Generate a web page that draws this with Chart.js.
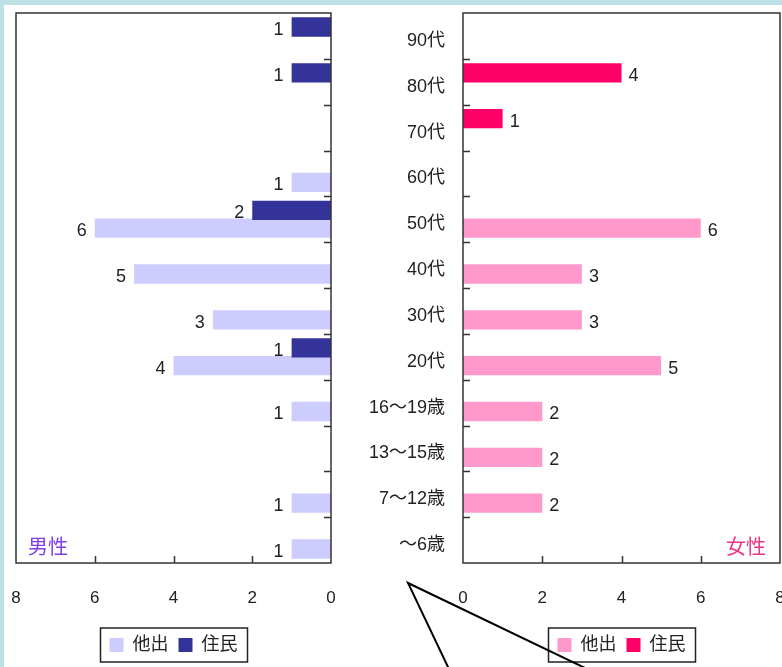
<!DOCTYPE html>
<html lang="ja">
<head>
<meta charset="utf-8">
<title>年代別 男女別 人数</title>
<script src="https://cdn.jsdelivr.net/npm/chart.js@4.4.1/dist/chart.umd.min.js"></script>
<style>
  html, body { margin: 0; padding: 0; width: 782px; height: 667px; overflow: hidden; background: #bde2e6; }
  #panel { position: absolute; left: 4px; top: 5px; width: 820px; height: 700px; background: #ffffff; }
  #male { position: absolute; left: 0; top: 0; }
  #female { position: absolute; left: 346px; top: 0; }
</style>
</head>
<body>
<div id="panel">
  <canvas id="male" width="376" height="662"></canvas>
  <canvas id="female" width="450" height="662"></canvas>
</div>
<script>
// 年代区分
const ageGroups = ['90代', '80代', '70代', '60代', '50代', '40代', '30代', '20代', '16～19歳', '13～15歳', '7～12歳', '～6歳'];

// 男性
const maleJumin = [1, 1, 0, 0, 2, 0, 0, 1, 0, 0, 0, 0];   // 住民
const maleTaside = [0, 0, 0, 1, 6, 5, 3, 4, 1, 0, 1, 1];  // 他出

// 女性
const femaleJumin = [0, 4, 1, 0, 0, 0, 0, 0, 0, 0, 0, 0];
const femaleTaside = [0, 0, 0, 0, 6, 3, 3, 5, 2, 2, 2, 0];

const seriesNames = { taside: '他出', jumin: '住民' };
const panelTitles = { male: '男性', female: '女性' };
const valueTicks = [0, 2, 4, 6, 8];

Chart.defaults.font.family = '"Liberation Sans", "Noto Sans CJK JP", sans-serif';
Chart.defaults.color = '#222222';

const AXIS_COLOR = '#333333';

// 軸の余白を固定して2枚のグラフの位置を揃える
function fixWidth(w) {
  return s => { s.width = w; s.paddingTop = 0; s.paddingBottom = 0; s.paddingLeft = 0; s.paddingRight = 0; };
}
function fixHeight(h) {
  return s => { s.height = h; s.paddingTop = 0; s.paddingBottom = 0; s.paddingLeft = 0; s.paddingRight = 0; };
}

// 枠線・内向きの目盛り・値ラベル・凡例の枠・男女の見出し
const framePlugin = {
  id: 'frame',
  afterDatasetsDraw(chart) {
    const ctx = chart.ctx;
    ctx.save();
    ctx.font = '18px "Liberation Sans", "Noto Sans CJK JP", sans-serif';
    ctx.fillStyle = '#222222';
    ctx.textBaseline = 'middle';
    chart.data.datasets.forEach((ds, di) => {
      const meta = chart.getDatasetMeta(di);
      meta.data.forEach((bar, i) => {
        const v = ds.data[i];
        if (!v) return;
        if (bar.x < bar.base) {
          ctx.textAlign = 'right';
          ctx.fillText(String(v), bar.x - 8, bar.y + 3);
        } else {
          ctx.textAlign = 'left';
          ctx.fillText(String(v), bar.x + 7, bar.y + 3);
        }
      });
    });
    ctx.restore();
  },
  afterDraw(chart, args, opts) {
    const ctx = chart.ctx;
    const a = chart.chartArea;
    const xs = chart.scales.x;
    const ys = chart.scales.y;
    ctx.save();
    ctx.strokeStyle = AXIS_COLOR;
    ctx.lineWidth = 1.5;
    ctx.strokeRect(a.left, a.top, a.right - a.left, a.bottom - a.top);

    // 区分の境目に内向きの目盛り
    const onRight = ys.position === 'right';
    const x0 = onRight ? a.right : a.left;
    const dir = onRight ? -1 : 1;
    ctx.beginPath();
    for (let i = 1; i < chart.data.labels.length; i++) {
      const y = Math.round(ys.getPixelForValue(i - 0.5)) + 0.5;
      ctx.moveTo(x0, y);
      ctx.lineTo(x0 + dir * 7, y);
    }
    // 値軸の内向きの目盛り
    xs.ticks.forEach(t => {
      if (t.value === xs.min || t.value === xs.max) return;
      const x = Math.round(xs.getPixelForValue(t.value)) + 0.5;
      ctx.moveTo(x, a.bottom);
      ctx.lineTo(x, a.bottom - 7);
    });
    ctx.stroke();

    // 男女の見出し
    ctx.font = '20px "Noto Sans CJK JP", sans-serif';
    ctx.fillStyle = opts.titleColor;
    ctx.textBaseline = 'middle';
    if (opts.titleSide === 'left') {
      ctx.textAlign = 'left';
      ctx.fillText(opts.title, a.left + 12, a.bottom - 17);
    } else {
      ctx.textAlign = 'right';
      ctx.fillText(opts.title, a.right - 14, a.bottom - 17);
    }

    // 凡例の枠
    const boxes = chart.legend.legendHitBoxes;
    if (boxes && boxes.length) {
      const l = Math.min(...boxes.map(b => b.left)) - 9;
      const r = Math.max(...boxes.map(b => b.left + b.width)) + 10;
      const cy = boxes[0].top + boxes[0].height / 2;
      ctx.strokeStyle = '#222222';
      ctx.lineWidth = 1.5;
      ctx.strokeRect(l, cy - 17, r - l, 34);
    }

    // 引き出し線
    if (opts.leader) {
      ctx.strokeStyle = '#000000';
      ctx.lineWidth = 2;
      const sx = a.left - 55, sy = a.bottom + 20;
      ctx.beginPath();
      ctx.moveTo(sx + 40 * 1.2, sy + 84 * 1.2);
      ctx.lineTo(sx, sy);
      ctx.lineTo(sx + 175 * 1.2, sy + 84 * 1.2);
      ctx.stroke();
    }
    ctx.restore();
  }
};

function makeChart(canvasId, cfg) {
  return new Chart(document.getElementById(canvasId), {
    type: 'bar',
    data: {
      labels: ageGroups,
      datasets: [
        { label: seriesNames.jumin, data: cfg.jumin, backgroundColor: cfg.dark, borderWidth: 0,
          categoryPercentage: 0.78, barPercentage: 1.08 },
        { label: seriesNames.taside, data: cfg.taside, backgroundColor: cfg.light, borderWidth: 0,
          categoryPercentage: 0.78, barPercentage: 1.08 }
      ]
    },
    options: {
      indexAxis: 'y',
      responsive: false,
      animation: false,
      layout: { padding: cfg.padding },
      scales: {
        x: {
          min: 0, max: 8, reverse: cfg.reverse,
          afterBuildTicks: s => { s.ticks = valueTicks.map(v => ({ value: v })); },
          ticks: { font: { size: 17 }, color: '#222222', padding: 25 },
          grid: { display: false, drawTicks: false },
          border: { display: false },
          afterFit: fixHeight(63)
        },
        y: {
          position: cfg.yPosition,
          ticks: { display: cfg.showLabels, font: { size: 18 }, color: '#222222', padding: 18, labelOffset: 5 },
          grid: { display: false, drawTicks: false },
          border: { display: false },
          afterFit: fixWidth(cfg.yWidth)
        }
      },
      plugins: {
        legend: {
          position: 'bottom',
          fullSize: false,
          reverse: true,
          labels: { boxWidth: 14, boxHeight: 14, padding: 10, color: '#222222', font: { size: 18 } }
        },
        tooltip: { enabled: false },
        frame: cfg.frame
      }
    },
    plugins: [framePlugin]
  });
}

makeChart('male', {
  jumin: maleJumin, taside: maleTaside,
  dark: '#333399', light: '#ccccff',
  reverse: true, yPosition: 'right', showLabels: false, yWidth: 49,
  padding: { left: 12, top: 8, right: 0, bottom: 3 },
  frame: { title: panelTitles.male, titleColor: '#7f3fe6', titleSide: 'left', leader: false }
});

makeChart('female', {
  jumin: femaleJumin, taside: femaleTaside,
  dark: '#ff0066', light: '#ff99cc',
  reverse: false, yPosition: 'left', showLabels: true, yWidth: 113,
  padding: { left: 0, top: 8, right: 20, bottom: 3 },
  frame: { title: panelTitles.female, titleColor: '#ec3586', titleSide: 'right', leader: true }
});
</script>
</body>
</html>
